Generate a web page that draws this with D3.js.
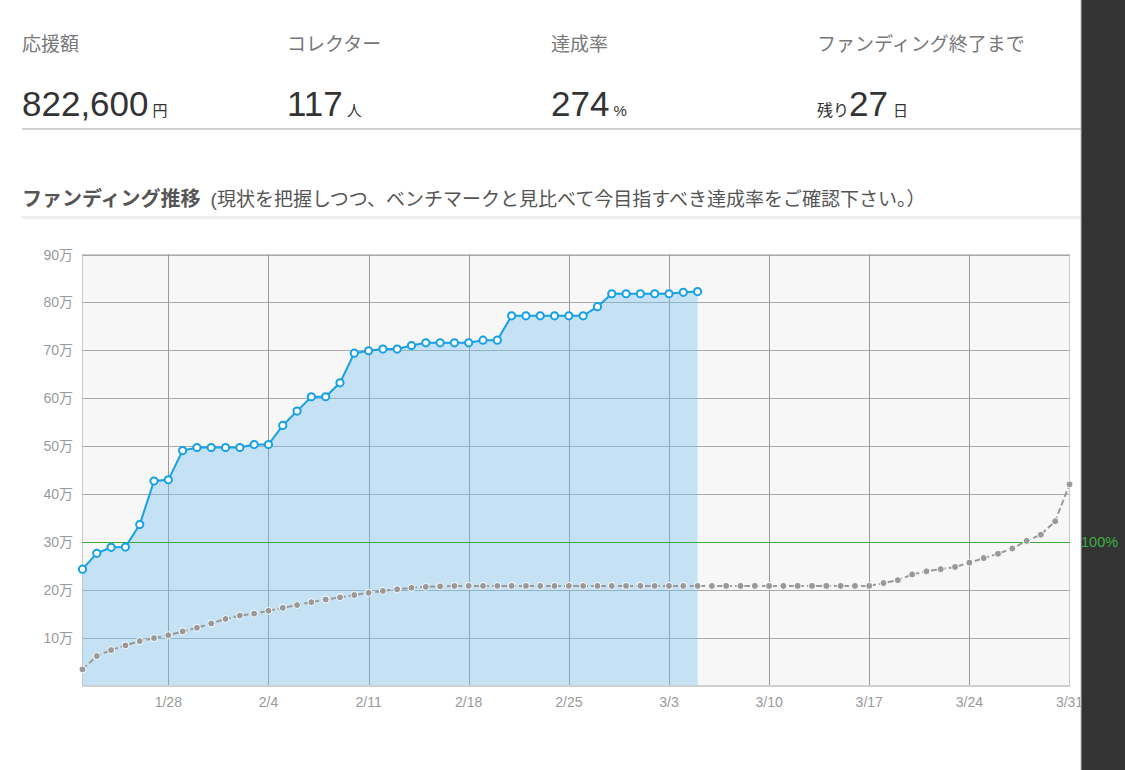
<!DOCTYPE html>
<html><head><meta charset="utf-8">
<script src="https://cdn.jsdelivr.net/npm/d3@7"></script>
<style>
html,body{margin:0;padding:0;background:#fff;}
svg{display:block;}
text{font-family:"Liberation Sans","Noto Sans CJK JP",sans-serif;}
</style></head>
<body>
<svg id="chart" width="1125" height="770"></svg>
<script>
// ---- data ----
const startDate = "2020-01-22";
const endDate = "2020-03-31";
const actualValues = [243000,276000,288500,289000,336000,427000,429500,490600,497000,497000,497000,497000,503000,503000,
 543000,573000,603000,603000,632000,694000,699000,702500,702500,710000,715600,715600,715600,715600,721000,721000,
 772000,772000,772000,772000,772000,772000,791000,818000,818000,818000,818000,818000,821000,822600];
const benchmarkValues = [33700,61500,74000,83700,92700,99000,105000,113000,120500,129500,139000,146000,150000,156000,
 162000,168000,174000,179500,184000,189000,193500,197500,201000,204000,206000,207000,208000,208000,208000,208000,
 208000,208000,208000,208000,208000,208000,208000,208000,208000,208000,208000,208000,208000,208000,208000,208000,
 208000,208000,208000,208000,208000,208000,208000,208000,208000,208000,214000,220000,232000,238500,243000,247500,
 256500,266000,275000,286000,302000,315000,343000,420000];
const targetValue = 300000;
const yTicks = [100000,200000,300000,400000,500000,600000,700000,800000,900000];
const xTickLabels = ["1/28","2/4","2/11","2/18","2/25","3/3","3/10","3/17","3/24","3/31"];
const headerLabels = ["応援額","コレクター","達成率","ファンディング終了まで"];
const headerValues = ["822,600","117","274","27"];
const headerUnits = ["円","人","%","日"];

// ---- drawing ----
const svg = d3.select("#chart");
const parse = d3.utcParse("%Y-%m-%d");
const d0 = parse(startDate), d1 = parse(endDate);
const L = 82.5, R = 1069.5, T = 254.5, B = 685.5;
const x = d3.scaleUtc().domain([d0, d1]).range([L, R]);
const y = d3.scaleLinear().domain([0, 900000]).range([B, T]);
const dayMs = 86400000;
const actual = actualValues.map((v,i)=>({d:new Date(d0.getTime()+i*dayMs), v}));
const bench = benchmarkValues.map((v,i)=>({d:new Date(d0.getTime()+i*dayMs), v}));
const tickDates = xTickLabels.map(s=>{const [m,dd]=s.split("/").map(Number);return new Date(Date.UTC(2020,m-1,dd));});

// header
const colX = [22,287,551,817];
headerLabels.forEach((t,i)=>{
  svg.append("text").attr("x",colX[i]).attr("y",51).attr("font-size",19).attr("fill","#777").text(t);
});
headerValues.forEach((v,i)=>{
  const g = svg.append("text").attr("x",colX[i]).attr("y",116).attr("fill","#333");
  if(i===3) g.append("tspan").attr("font-size",16).text("残り");
  g.append("tspan").attr("font-size",35).text(v);
  g.append("tspan").attr("font-size",15).attr("dx",i===3?5:4).text(headerUnits[i]);
});
svg.append("rect").attr("x",22).attr("y",128).attr("width",1059).attr("height",2).attr("fill","#d0d0d0");

// title
const tt = svg.append("text").attr("x",22).attr("y",206).attr("fill","#555");
tt.append("tspan").attr("font-size",20).attr("font-weight","bold").text("ファンディング推移");
tt.append("tspan").attr("font-size",19).attr("dx",10).text("(現状を把握しつつ、ベンチマークと見比べて今目指すべき達成率をご確認下さい。）");
svg.append("rect").attr("x",22).attr("y",216).attr("width",1059).attr("height",3).attr("fill","#eeeeee");

// plot background
svg.append("rect").attr("x",L).attr("y",T).attr("width",R-L).attr("height",B-T)
  .attr("fill","#f7f7f7").attr("stroke","#cccccc").attr("stroke-width",1);

// grid
const grid = svg.append("g");
grid.selectAll("line.h").data(yTicks).join("line")
  .attr("x1",L).attr("x2",R).attr("y1",d=>Math.round(y(d))+0.5).attr("y2",d=>Math.round(y(d))+0.5)
  .attr("stroke",d=>d===targetValue?"none":"#aaaaaa").attr("stroke-width",1);
grid.selectAll("line.v").data(tickDates.slice(0,-1)).join("line")
  .attr("x1",d=>Math.round(x(d))+0.5).attr("x2",d=>Math.round(x(d))+0.5).attr("y1",T).attr("y2",B)
  .attr("stroke","#9a9a9a").attr("stroke-width",1);

// area
const area = d3.area().x(d=>x(d.d)).y0(B).y1(d=>y(d.v));
svg.append("path").datum(actual).attr("d",area).attr("fill","rgb(116,191,241)").attr("fill-opacity",0.38);

// bottom axis line
svg.append("line").attr("x1",L).attr("x2",R+1).attr("y1",B+0.5).attr("y2",B+0.5).attr("stroke","#cfcfcf").attr("stroke-width",2);

// target line
svg.append("line").attr("x1",L).attr("x2",R).attr("y1",Math.round(y(targetValue))+0.5).attr("y2",Math.round(y(targetValue))+0.5)
  .attr("stroke","#3aaa3a").attr("stroke-width",1);

// y labels
svg.append("g").selectAll("text").data(yTicks).join("text")
  .attr("x",73).attr("y",d=>y(d)).attr("dy","0.36em").attr("text-anchor","end")
  .attr("font-size",14).attr("fill","#999").text(d=>(d/10000)+"万");

// x labels
svg.append("g").selectAll("text").data(tickDates).join("text")
  .attr("x",d=>x(d)).attr("y",707).attr("text-anchor","middle")
  .attr("font-size",14).attr("fill","#999").text((d,i)=>xTickLabels[i]);

// benchmark line
const line = d3.line().x(d=>x(d.d)).y(d=>y(d.v));
svg.append("path").datum(bench).attr("d",line).attr("fill","none")
  .attr("stroke","#999").attr("stroke-width",2).attr("stroke-dasharray","6,3");
svg.append("g").selectAll("circle").data(bench).join("circle")
  .attr("cx",d=>x(d.d)).attr("cy",d=>y(d.v)).attr("r",3.5)
  .attr("fill","#999").attr("stroke","#fff").attr("stroke-width",1);

// actual line
svg.append("path").datum(actual).attr("d",line).attr("fill","none")
  .attr("stroke","#16a0e6").attr("stroke-width",2);
svg.append("g").selectAll("circle").data(actual).join("circle")
  .attr("cx",d=>x(d.d)).attr("cy",d=>y(d.v)).attr("r",3.6)
  .attr("fill","#fff").attr("stroke","#16a0e6").attr("stroke-width",2);

// dark side bar
svg.append("rect").attr("x",1081).attr("y",0).attr("width",44).attr("height",770).attr("fill","#333333");
svg.append("line").attr("x1",1081).attr("x2",1081).attr("y1",0).attr("y2",770).attr("stroke","#bbbbbb").attr("stroke-width",1);

// 100% label
svg.append("text").attr("x",1081).attr("y",y(targetValue)).attr("dy","0.36em")
  .attr("font-size",14.5).attr("fill","#3cb043").text("100%");
</script>
</body></html>
